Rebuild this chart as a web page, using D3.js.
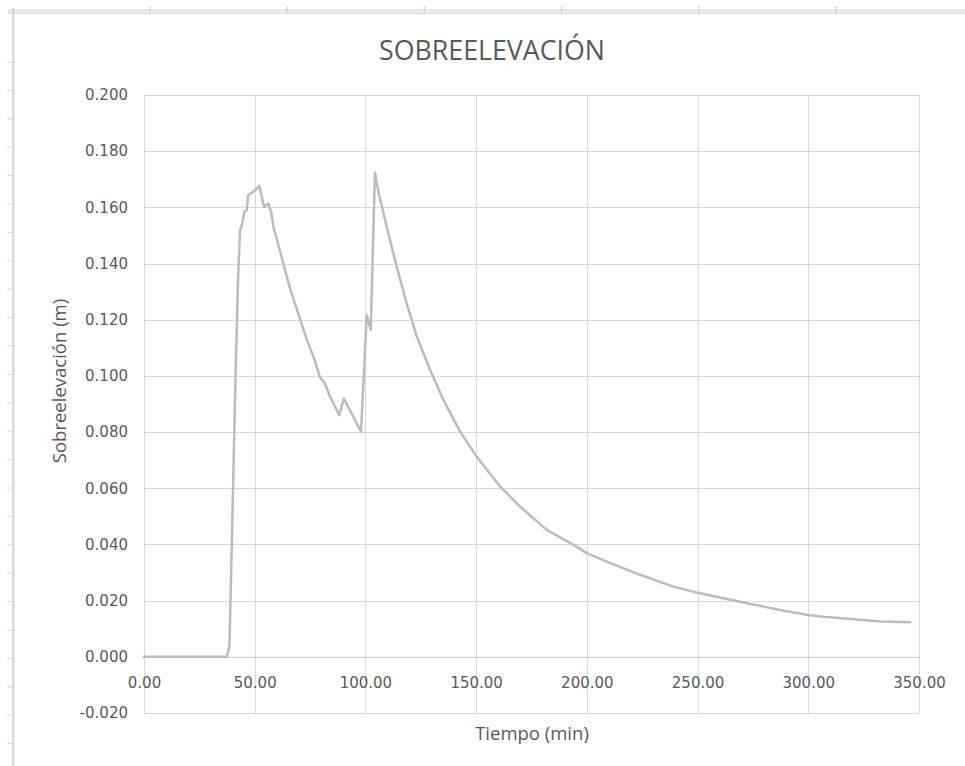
<!DOCTYPE html>
<html><head><meta charset="utf-8">
<script src="https://cdn.jsdelivr.net/npm/d3@7/dist/d3.min.js"></script>
<style>body{margin:0;background:#fff}svg{display:block}</style>
</head><body>
<svg id="chart" width="965" height="766"></svg>
<script>
const title = "SOBREELEVACIÓN";
const xTitle = "Tiempo (min)";
const yTitle = "Sobreelevación (m)";
const xTicks = [0, 50, 100, 150, 200, 250, 300, 350];
const yTicks = [-0.02, 0, 0.02, 0.04, 0.06, 0.08, 0.10, 0.12, 0.14, 0.16, 0.18, 0.20];
const times = [0, 10, 20, 30, 37.5, 38.6, 39.5, 40.5, 41.5, 42.5, 43.4, 44.4, 45.3, 46.4, 47.1, 49.4, 50.9, 52.1, 54.2, 56.1, 57.4, 58.7, 59.9, 62.9, 66, 70.4, 73.5, 76.5, 79.5, 81.7, 84, 86.3, 88.2, 90.2, 92.3, 95.3, 98, 100.6, 102.4, 104.3, 106, 109.6, 114.1, 118.6, 123.2, 129.2, 135.2, 142.3, 150.2, 160.8, 169.8, 181.9, 193.9, 199.9, 209, 224, 239, 249.6, 272.2, 287.2, 300, 306.8, 323.4, 332.4, 346];
const values = [0, 0, 0, 0, 0, 0.004, 0.035, 0.07, 0.105, 0.135, 0.152, 0.1544, 0.1584, 0.159, 0.1644, 0.1656, 0.1667, 0.1677, 0.1602, 0.1614, 0.1584, 0.152, 0.149, 0.140, 0.131, 0.1205, 0.113, 0.1069, 0.0995, 0.0974, 0.0926, 0.0891, 0.086, 0.0919, 0.0889, 0.0843, 0.0802, 0.1217, 0.1164, 0.1724, 0.165, 0.1531, 0.1389, 0.1259, 0.114, 0.1021, 0.0915, 0.0808, 0.0713, 0.0606, 0.0535, 0.0452, 0.0399, 0.0369, 0.0339, 0.0292, 0.025, 0.0229, 0.0191, 0.0167, 0.0149, 0.0143, 0.0132, 0.0126, 0.0123];

const svg = d3.select("#chart");
const txt = "#595959", grid = "#d9d9d9";

// spreadsheet frame artifacts
const frame = svg.append("g");
frame.append("rect").attr("x", 8).attr("y", 9.5).attr("width", 957).attr("height", 4).attr("fill", "#ececec");
frame.append("line").attr("x1", 8).attr("x2", 965).attr("y1", 10).attr("y2", 10).attr("stroke", "#dedede");
frame.append("line").attr("x1", 8).attr("x2", 965).attr("y1", 13.5).attr("y2", 13.5).attr("stroke", "#dedede");
d3.range(6).forEach(i => {
  const x = 150 + i * 137.2;
  frame.append("line").attr("x1", x).attr("x2", x).attr("y1", 6).attr("y2", 14).attr("stroke", "#d6d6d6").attr("stroke-width", 1.5);
});
frame.append("rect").attr("x", 12).attr("y", 8).attr("width", 2.5).attr("height", 758).attr("fill", "#dadada");
d3.range(25).forEach(i => {
  const y = 62 + i * 28.4;
  if (y < 766) frame.append("line").attr("x1", 7).attr("x2", 13).attr("y1", y).attr("y2", y).attr("stroke", "#d6d6d6");
});

const x = d3.scaleLinear().domain([0, 350]).range([144, 919]);
const y = d3.scaleLinear().domain([-0.02, 0.2]).range([713, 95]);

// gridlines
svg.append("g").selectAll("line.h").data(yTicks).join("line")
  .attr("x1", x(0)).attr("x2", x(350))
  .attr("y1", d => Math.round(y(d)) + 0.5).attr("y2", d => Math.round(y(d)) + 0.5)
  .attr("stroke", grid).attr("stroke-width", 1);
svg.append("g").selectAll("line.v").data(xTicks).join("line")
  .attr("x1", d => Math.round(x(d)) + 0.5).attr("x2", d => Math.round(x(d)) + 0.5)
  .attr("y1", y(0.2)).attr("y2", y(-0.02))
  .attr("stroke", grid).attr("stroke-width", 1);

// y axis labels
const f3 = d3.format(".3f");
const yAxis = d3.axisLeft(y).tickValues(yTicks).tickFormat(d => f3(d).replace("\u2212", "-")).tickSize(0).tickPadding(16);
const gy = svg.append("g").attr("transform", `translate(${x(0)},0)`).call(yAxis);
gy.select(".domain").remove();
gy.selectAll("text").attr("fill", txt).style("font-family", "'DejaVu Sans', Verdana, sans-serif").style("font-size", "15px");

// x axis at y=0
const xAxis = d3.axisBottom(x).tickValues(xTicks).tickFormat(d3.format(".2f")).tickSize(0).tickPadding(21);
const gx = svg.append("g").attr("transform", `translate(0,${y(0)})`).call(xAxis);
gx.select(".domain").attr("stroke", "#d0d0d0");
gx.selectAll("text").attr("fill", txt).style("font-family", "'DejaVu Sans', Verdana, sans-serif").style("font-size", "15px");

// line
const pts = times.map((t, i) => [t, values[i]]);
svg.append("path").datum(pts)
  .attr("fill", "none").attr("stroke", "#bcbcbc").attr("stroke-width", 2.5)
  .attr("stroke-linejoin", "round").attr("stroke-linecap", "round")
  .attr("d", d3.line().x(d => x(d[0])).y(d => y(d[1])));

// titles
svg.append("text").attr("x", 492).attr("y", 60).attr("text-anchor", "middle")
  .attr("fill", txt).style("font-family", "'Open Sans', sans-serif").style("font-size", "27px")
  .attr("textLength", 226).attr("lengthAdjust", "spacingAndGlyphs").text(title);
svg.append("text").attr("x", 532).attr("y", 740).attr("text-anchor", "middle")
  .attr("fill", txt).style("font-family", "'Open Sans', sans-serif").style("font-size", "18.5px").text(xTitle);
svg.append("text").attr("transform", "translate(66,381) rotate(-90)").attr("text-anchor", "middle")
  .attr("fill", txt).style("font-family", "'Open Sans', sans-serif").style("font-size", "18.5px").text(yTitle);
</script>
</body></html>
